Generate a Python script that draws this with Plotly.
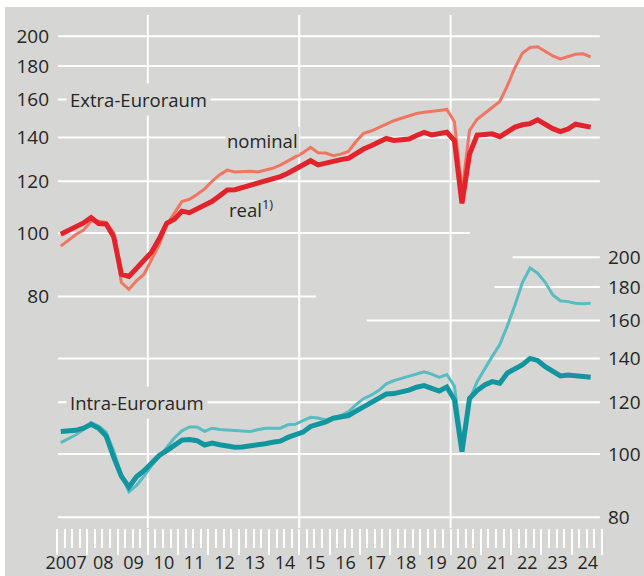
import plotly.graph_objects as go

# ---------------- data (quarterly, 2007Q1 .. 2024Q3) ----------------
years = list(range(2007, 2025))
year_labels = ["2007"] + [f"{y % 100:02d}" for y in years[1:]]

extra_real = [99.6, 101, 102.5, 103.6, 105.6, 103.4, 103.2, 98.6, 86.5, 85.8,
              88.3, 90.6, 93.5, 98, 103.5, 105, 108, 107.4, 108.8, 110.2,
              111.8, 114, 116.4, 116.5, 117.4, 118.4, 119.2, 119.9, 120.7, 122,
              123.4, 125.2, 126.8, 129, 127.1, 128, 128.9, 129.5, 130.1, 132.3,
              134.4, 136, 137.8, 139.5, 138.5, 138.8, 139.2, 141, 142.5, 141.3,
              142.2, 142.6, 138.5, 111, 132, 141.2, 141.5, 141.8, 140.4, 143,
              145.2, 146.4, 147, 149, 146.6, 144.4, 142.9, 144.2, 146.7, 146,
              145.2]
extra_nominal = [95.5, 97.5, 99.5, 101, 104.2, 104.2, 103.8, 100, 84, 82,
                 84.5, 86.5, 91, 96, 103, 107.5, 111.7, 112.6, 114.5, 116.8,
                 120, 122.8, 124.8, 124, 124.3, 124.3, 124, 124.8, 125.6, 127,
                 128.8, 130.8, 132.7, 135.2, 132.7, 132.5, 131.3, 132, 133.3, 138,
                 142, 143.2, 145, 147, 148.5, 149.8, 151, 152.3, 153, 153.3,
                 154, 154.5, 148, 116, 143.5, 149.3, 152.5, 155.7, 158.9, 168,
                 179, 188.5, 192.2, 192.7, 189.6, 186.5, 184.6, 186.2, 187.6, 188,
                 186]
intra_real = [108.2, 108.3, 108.7, 109.5, 111, 109.5, 106.5, 98.8, 92.5, 89,
              92.3, 94.3, 96.8, 99.5, 101.2, 103, 105, 105.2, 104.8, 103.2,
              103.9, 103.3, 102.7, 102.4, 102.5, 102.8, 103.1, 103.7, 104.2, 104.6,
              106, 107.1, 108, 110.2, 111, 112, 113.4, 113.8, 114.5, 116.3,
              118, 119.5, 121.3, 123.5, 123.7, 124.3, 125.2, 126.5, 127.2, 126,
              124.8, 126.6, 121, 100.8, 121.6, 125, 127.5, 129, 128.3, 133,
              135, 137, 140, 139, 136, 133.5, 131.6, 132, 131.7, 131.3,
              131]
intra_nominal = [104.1, 105.5, 107, 109, 111.7, 110.3, 108, 101, 93, 87.5,
                 89.5, 92.5, 96, 99, 102.5, 105.8, 108.5, 110, 110, 108.3,
                 109.5, 109, 108.8, 108.6, 108.4, 108.2, 108.9, 109.5, 109.5, 109.5,
                 110.8, 111, 112.5, 113.8, 113.5, 112.7, 113.6, 114.5, 116, 119,
                 121.5, 123, 125, 128, 129.5, 130.5, 131.5, 132.5, 133.5, 132.5,
                 131, 132.3, 127, 104, 121, 129, 135, 141, 147, 157,
                 169, 183, 192.5, 189, 183, 175, 171.5, 171, 170, 169.7,
                 170]

axis_ticks = [80, 100, 120, 140, 160, 180, 200]

n = len(extra_real)
t = [2007 + i / 4 + 0.125 for i in range(n)]

# ---------------- style ----------------
BG = "#d6d6d4"
GRID = "#ffffff"
TXT = "#262626"
FONT = "Open Sans"
C_EXT_REAL = "#e3232b"
C_EXT_NOM = "#f27561"
C_INT_REAL = "#11959f"
C_INT_NOM = "#58bcc2"

fig = go.Figure()

# gridlines (partial extents, as in the original layout)
left_end = {200: 2024.93, 180: 2024.93, 160: 2024.93, 140: 2024.93, 120: 2024.93,
            100: 2020.63, 80: 2015.55}
right_start = {200: 2022.05, 180: 2021.45, 160: 2017.23, 140: 2007.03, 120: 2007.03,
               100: 2007.03, 80: 2007.03}
for v in axis_ticks:
    fig.add_trace(go.Scatter(x=[2007.03, left_end[v]], y=[v, v], mode="lines",
                             line=dict(color=GRID, width=2), yaxis="y",
                             hoverinfo="skip"))
for v in axis_ticks:
    fig.add_trace(go.Scatter(x=[right_start[v], 2024.93], y=[v, v], mode="lines",
                             line=dict(color=GRID, width=2), yaxis="y2",
                             hoverinfo="skip"))

fig.add_trace(go.Scatter(x=t, y=extra_nominal, mode="lines",
                         line=dict(color=C_EXT_NOM, width=3), yaxis="y"))
fig.add_trace(go.Scatter(x=t, y=extra_real, mode="lines",
                         line=dict(color=C_EXT_REAL, width=5), yaxis="y"))
fig.add_trace(go.Scatter(x=t, y=intra_nominal, mode="lines",
                         line=dict(color=C_INT_NOM, width=3), yaxis="y2"))
fig.add_trace(go.Scatter(x=t, y=intra_real, mode="lines",
                         line=dict(color=C_INT_REAL, width=5), yaxis="y2"))

shapes = []
# white frame outside grey panel
shapes.append(dict(type="rect", xref="paper", yref="paper", x0=-0.2, x1=1.2,
                   y0=1.0156, y1=1.2, fillcolor="white", line=dict(width=0), layer="below"))
shapes.append(dict(type="rect", xref="paper", yref="paper", x0=-0.2, x1=-0.0954,
                   y0=-0.2, y1=1.2, fillcolor="white", line=dict(width=0), layer="below"))
# vertical lines
for yr in [2010, 2015, 2020]:
    shapes.append(dict(type="line", xref="x", yref="paper", x0=yr, x1=yr, y0=0, y1=1,
                       line=dict(color=GRID, width=2), layer="below"))

LBL = dict(family=FONT, size=18.5, color=TXT)
annotations = [
    dict(text="Extra-Euroraum", x=2007.3, y=2.2041, xref="x", yref="y",
         xanchor="left", yanchor="middle", showarrow=False, bgcolor=BG, borderpad=3,
         font=LBL),
    dict(text="nominal", x=2012.55, y=2.1421, xref="x", yref="y",
         xanchor="left", yanchor="middle", showarrow=False, bgcolor=BG, borderpad=1,
         font=LBL),
    dict(text="real<sup>1)</sup>", x=2012.6, y=2.0382, xref="x", yref="y",
         xanchor="left", yanchor="middle", showarrow=False,
         font=LBL),
    dict(text="Intra-Euroraum", x=2007.3, y=2.0792, xref="x", yref="y2",
         xanchor="left", yanchor="middle", showarrow=False, bgcolor=BG, borderpad=3,
         font=LBL),
]

label_pos = [2007.3] + [y + 0.53 for y in years[1:]]

fig.update_layout(
    width=644, height=576, autosize=False,
    margin=dict(l=57, r=42, t=15, b=48, pad=0, autoexpand=False),
    paper_bgcolor=BG, plot_bgcolor=BG,
    showlegend=False,
    font=dict(family=FONT, size=18, color=TXT),
    shapes=shapes, annotations=annotations,
    xaxis=dict(range=[2007, 2025], showgrid=False, zeroline=False, showline=False,
               tickvals=label_pos, ticktext=year_labels, automargin=False,
               ticks="", ticklabelstandoff=22, tickangle=0,
               tickfont=dict(family=FONT, size=18, color=TXT)),
    xaxis2=dict(range=[2007, 2025], overlaying="x", anchor="y", side="bottom",
                showgrid=False, zeroline=False, showline=False, showticklabels=False,
                automargin=False,
                tickvals=list(range(2007, 2026)), ticks="outside", ticklen=26,
                tickwidth=2, tickcolor=GRID,
                minor=dict(dtick=0.25, tick0=2007, ticks="outside", ticklen=19,
                           tickwidth=2, tickcolor=GRID)),
    yaxis=dict(type="log", range=[1.5489, 2.3334], showgrid=False, zeroline=False,
               showline=False, tickvals=axis_ticks, ticks="", ticklabelstandoff=7,
               automargin=False,
               tickfont=dict(family=FONT, size=19, color=TXT)),
    yaxis2=dict(type="log", range=[1.8868, 2.6713], overlaying="y", side="right",
                showgrid=False, zeroline=False, showline=False, tickvals=axis_ticks,
                ticks="", ticklabelstandoff=5, automargin=False,
                tickfont=dict(family=FONT, size=19, color=TXT)),
)

fig.add_trace(go.Scatter(x=[2007, 2025], y=[None, None], xaxis="x2", yaxis="y",
                         mode="lines", showlegend=False, hoverinfo="skip"))

fig.write_html("out.html", config={"displayModeBar": False},
               post_script="document.body.style.margin='0';"
                           "document.body.style.overflow='hidden';")
